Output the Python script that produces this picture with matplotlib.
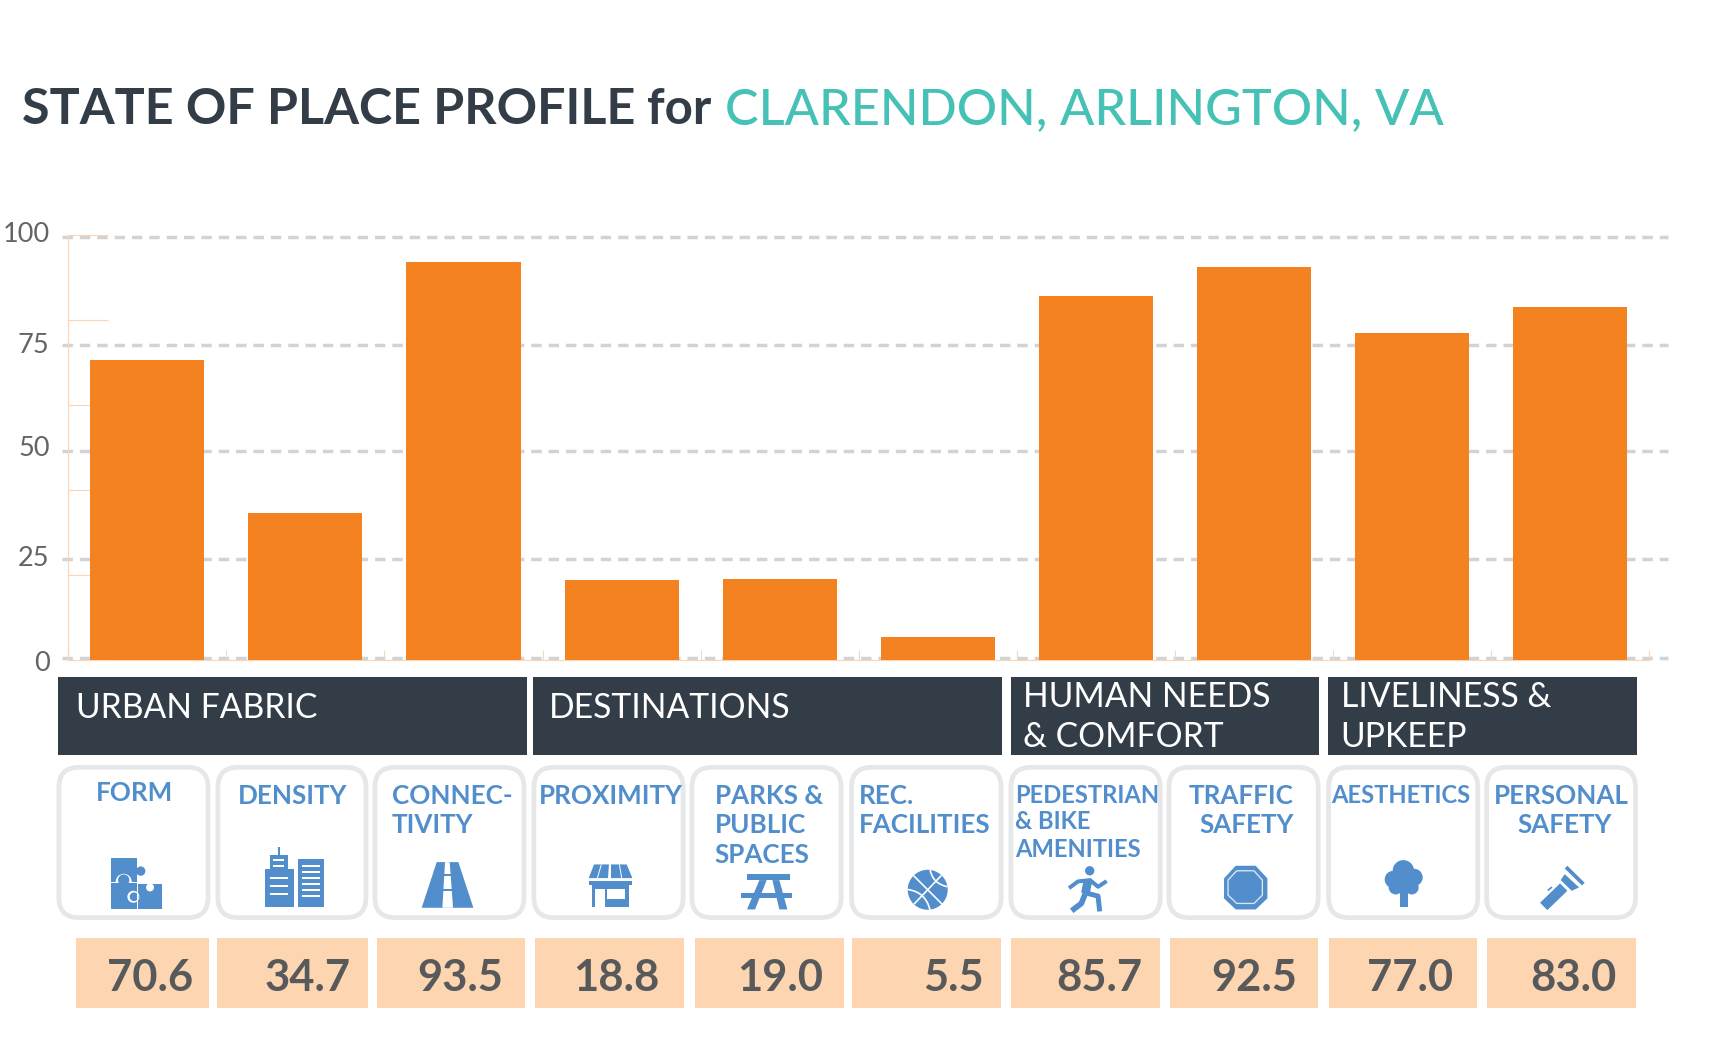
import matplotlib
matplotlib.use("Agg")
import matplotlib.pyplot as plt
from matplotlib.patches import Rectangle, Circle, Polygon, FancyBboxPatch, PathPatch
from matplotlib.path import Path

# ---------- data ----------
values = [70.6, 34.7, 93.5, 18.8, 19.0, 5.5, 85.7, 92.5, 77.0, 83.0]
y_tick_labels = ["100", "75", "50", "25", "0"]
y_tick_label_levels = [100.7, 74.6, 50.4, 24.5, -0.15]
grid_levels = [99.6, 74.2, 49.3, 23.7, 0.6]
axis_levels = [0, 20, 40, 60, 80, 100]
groups = [["URBAN FABRIC"], ["DESTINATIONS"], ["HUMAN NEEDS", "& COMFORT"], ["LIVELINESS &", "UPKEEP"]]
card_labels = [["FORM"], ["DENSITY"], ["CONNEC-", "TIVITY"], ["PROXIMITY"],
               ["PARKS &", "PUBLIC", "SPACES"], ["REC.", "FACILITIES"],
               ["PEDESTRIAN", "& BIKE", "AMENITIES"], ["TRAFFIC", "SAFETY"],
               ["AESTHETICS"], ["PERSONAL", "SAFETY"]]

# ---------- style ----------
W, H = 1721, 1050
ORANGE = "#f58220"; PEACH = "#fdd5b1"; BLUE = "#518ecb"; DARK = "#333d48"
TEAL = "#45c1b5"; GREY = "#d1d3d4"; CARD = "#e6e7e8"; NUM = "#58595b"
plt.rcParams["font.family"] = ["Lato", "DejaVu Sans"]

fig = plt.figure(figsize=(W / 100, H / 100), dpi=100, facecolor="white")

# pixel-layout overlay for the infographic furniture
SHIFT_X, SHIFT_Y = 0.7, 1.1
px = fig.add_axes([0, 0, 1, 1], zorder=1)
px.axis("off")

# ---------- bar chart ----------
AX_L, AX_R, Y0, Y100 = 68.3, 1649.0, 660.3, 234.8
unit = (Y0 - Y100) / 100
lo, hi = -2, 102
bottom_px = Y0 - lo * unit
top_px = Y100 - (hi - 100) * unit
ax = fig.add_axes([AX_L / W, 1 - bottom_px / H, (AX_R - AX_L) / W, (bottom_px - top_px) / H], zorder=2)
ax.patch.set_alpha(0)
ax.set_xlim(0, 10); ax.set_ylim(lo, hi)
ax.hlines(grid_levels, -0.04, 10.12, colors=GREY, linewidth=2.5,
          linestyles=[(0, (3.0, 2.0))], clip_on=False, zorder=1)
ax.hlines(axis_levels, 0, 0.25, colors=PEACH, linewidth=0.8, zorder=1.5)
ax.bar([i + 0.5 for i in range(len(values))], values, width=114 / 158, color=ORANGE, zorder=3)
for s in ("top", "right"):
    ax.spines[s].set_visible(False)
ax.spines["left"].set_bounds(0, 100); ax.spines["left"].set_color(PEACH); ax.spines["left"].set_linewidth(0.8)
ax.spines["bottom"].set_position(("data", 0)); ax.spines["bottom"].set_color(PEACH); ax.spines["bottom"].set_linewidth(0.8)
ax.set_xticks(range(11)); ax.set_xticklabels([])
ax.tick_params(axis="x", direction="in", length=7, width=0.8, color=PEACH)
ax.set_yticks(y_tick_label_levels); ax.set_yticklabels(y_tick_labels)
ax.tick_params(axis="y", length=0, pad=13.5, labelsize=19.5, labelcolor="#636466")

def T(x, y, s, size, color, weight="normal", ha="left"):
    px.text(x, y, s, fontsize=size, color=color, fontweight=weight, ha=ha, va="baseline")

# ---------- title ----------
T(21, 122.7, "STATE OF PLACE PROFILE", 36.2, DARK, "bold")
T(646, 122.7, "for", 35.5, DARK, "bold")
T(724, 122.7, "CLARENDON, ARLINGTON, VA", 36.3, TEAL, "medium")

# ---------- group headers ----------
hdr_x = [(57, 526), (532, 1001.5), (1009.8, 1318.6), (1327.4, 1636)]
hdr_tx = [75.5, 548.5, 1022, 1340]
for (a, b), tx, lines in zip(hdr_x, hdr_tx, groups):
    px.add_patch(Rectangle((a, 676), b - a, 77.5, fc=DARK, ec="none"))
    base = [716.5] if len(lines) == 1 else [705.5, 745.5]
    for yy, s in zip(base, lines):
        T(tx, yy, s, 24.2, "white")

# ---------- cards ----------
card_x = [(56, 209.5), (215, 367.5), (372, 525.5), (531, 684.6), (689, 842.6),
          (848.6, 1002.6), (1008, 1161.7), (1166, 1319.7), (1325.7, 1479.3), (1483.7, 1637)]
for a, b in card_x:
    px.add_patch(FancyBboxPatch((a + 2.2, 766.2), b - a - 4.4, 150.3,
                                boxstyle="round,pad=0,rounding_size=20", fc="white", ec=CARD, lw=3.4))

# (x anchors per line, alignment, baselines, font size) per card
lab_spec = [
    ([133.5], "center", [800], 18.7), ([292], "center", [803], 18.7), ([391], "left", [803, 832], 18.7),
    ([610], "center", [803], 18.7), ([714], "left", [803, 832, 862], 18.7), ([858], "left", [803, 832], 18.7),
    ([1014, 1014, 1014], "left", [802, 828, 856], 17.1), ([1293, 1293], "right", [803, 832], 18.7),
    ([1400], "center", [802], 17.1), ([1561, 1564], "center", [803, 832], 18.7),
]
for spec, lines in zip(lab_spec, card_labels):
    xs, ha, bases, fs = spec
    xs = xs if len(xs) == len(lines) else xs * len(lines)
    for xx, yy, s in zip(xs, bases, lines):
        T(xx, yy, s, fs, BLUE, "bold", ha)

# ---------- value boxes ----------
box_x = [(75, 208.4), (216, 367), (375.8, 523.9), (534.3, 683), (694, 843),
         (851.3, 999.9), (1009.8, 1159), (1168.8, 1317.5), (1327.9, 1476.6), (1486.4, 1635)]
num_r = [192, 349.5, 502, 658.5, 822, 983, 1141.5, 1296, 1452.5, 1615.5]
for (a, b), r, v in zip(box_x, num_r, values):
    px.add_patch(Rectangle((a, 936.7), b - a, 70, fc=PEACH, ec="none"))
    T(r, 989.5, f"{v:.1f}", 31.3, NUM, "bold", "right")

# ---------- icons (zoom-space helpers: 3 units = 1 pixel) ----------
def P(o, pts, c=BLUE):
    px.add_patch(Polygon([(o[0] + x / 3, o[1] + y / 3) for x, y in pts], closed=True, fc=c, ec="none"))
def R(o, x0, y0, x1, y1, c=BLUE):
    px.add_patch(Rectangle((o[0] + x0 / 3, o[1] + y0 / 3), (x1 - x0) / 3, (y1 - y0) / 3, fc=c, ec="none"))
def C(o, x, y, r, c=BLUE):
    px.add_patch(Circle((o[0] + x / 3, o[1] + y / 3), r / 3, fc=c, ec="none"))
def L(o, pts, w, c=BLUE, cap="butt"):
    xs = [o[0] + x / 3 for x, y in pts]; ys = [o[1] + y / 3 for x, y in pts]
    px.plot(xs, ys, color=c, lw=w / 3 * 0.72, solid_capstyle=cap, solid_joinstyle="round")
def B(o, p0, p1, p2, w, c="white"):
    pts = [(o[0] + x / 3, o[1] + y / 3) for x, y in (p0, p1, p2)]
    px.add_patch(PathPatch(Path(pts, [Path.MOVETO, Path.CURVE3, Path.CURVE3]), fc="none", ec=c, lw=w / 3 * 0.72))

# puzzle
o = (90, 839)
R(o, 60, 54, 138, 125); C(o, 150, 93, 14)
C(o, 99, 125, 24, "white"); R(o, 60, 128, 138, 206); C(o, 99, 120, 17)
R(o, 60, 125, 76, 128, "white")
R(o, 142, 132, 213, 206); C(o, 178, 142, 12, "white"); R(o, 167, 125, 190, 132, "white")
C(o, 128, 170, 18, "white"); C(o, 130, 170, 13)
R(o, 138, 130, 142, 206, "white")
# buildings
o = (240, 839)
R(o, 111, 20, 117, 46); R(o, 88, 46, 141, 88); R(o, 72, 87, 159, 201); R(o, 171, 57, 249, 201)
for y in (60, 77):
    R(o, 97, y - 2.5, 129, y + 2.5, "white")
for y in (114, 138, 161):
    R(o, 87, y - 2.5, 141, y + 2.5, "white")
for y in (77, 96, 114, 132, 150, 168):
    R(o, 183, y - 2.5, 237, y + 2.5, "white")
# road
P(o, [(588, 66), (653, 66), (698, 203), (543, 203)])
P(o, [(613, 66), (627, 66), (637, 203), (605, 203)], "white")
R(o, 610, 101, 632, 108); R(o, 606, 147, 636, 153)
# store
o = (570, 849)
P(o, [(70, 43), (168, 43), (185, 84), (54, 84)])
L(o, [(92, 43), (80, 84)], 3, "white"); P(o, [(114, 43), (120, 43), (120, 84), (112, 84)], "white")
L(o, [(146, 43), (153, 84)], 3, "white")
R(o, 54, 92, 185, 106); R(o, 64, 106, 175, 172)
R(o, 74, 118, 104, 172, "white"); R(o, 110, 118, 164, 148, "white")
# table
R(o, 529, 72, 657, 90); R(o, 510, 128, 664, 144)
P(o, [(566, 90), (588, 90), (553, 178), (529, 178)])
P(o, [(605, 90), (626, 90), (650, 178), (626, 178)])
# ball
o = (890, 849)
C(o, 111, 119, 60)
L(o, [(68, 76), (154, 162)], 5, "white"); L(o, [(152, 76), (70, 162)], 5, "white")
B(o, (118, 58), (125, 100), (170, 110), 5); B(o, (50, 118), (105, 125), (118, 180), 5)
# runner
C(o, 597, 62, 14)
L(o, [(535, 114), (562, 94), (598, 90), (622, 110), (648, 93)], 12)
L(o, [(592, 90), (584, 130)], 26)
L(o, [(584, 130), (572, 160), (543, 182)], 17)
L(o, [(584, 128), (622, 138), (627, 184)], 15)
# octagon
o = (1200, 849)
P(o, [(105, 47), (165, 47), (200, 85), (200, 145), (165, 178), (105, 178), (70, 145), (70, 85)])
oct_in = [(108, 62), (160, 62), (185, 90), (185, 135), (160, 160), (108, 160), (82, 135), (82, 90), (108, 62)]
L(o, oct_in, 4, "#dbe6f3")
# tree
R(o, 597, 120, 622, 172)
for x, y, r in [(608, 62, 32), (578, 88, 26), (640, 82, 26), (585, 112, 21), (633, 112, 21), (608, 95, 30)]:
    C(o, x, y, r)
# flashlight
P(o, [(1078, 100), (1100, 122), (1040, 180), (1018, 158)])
P(o, [(1092, 72), (1135, 112), (1113, 122), (1080, 90)])
P(o, [(1100, 47), (1152, 98), (1144, 106), (1092, 55)])
L(o, [(1041, 121), (1054, 111)], 5)

px.set_xlim(-SHIFT_X, W - SHIFT_X); px.set_ylim(H - SHIFT_Y, -SHIFT_Y)

fig.savefig("out.png", dpi=100, facecolor="white")
